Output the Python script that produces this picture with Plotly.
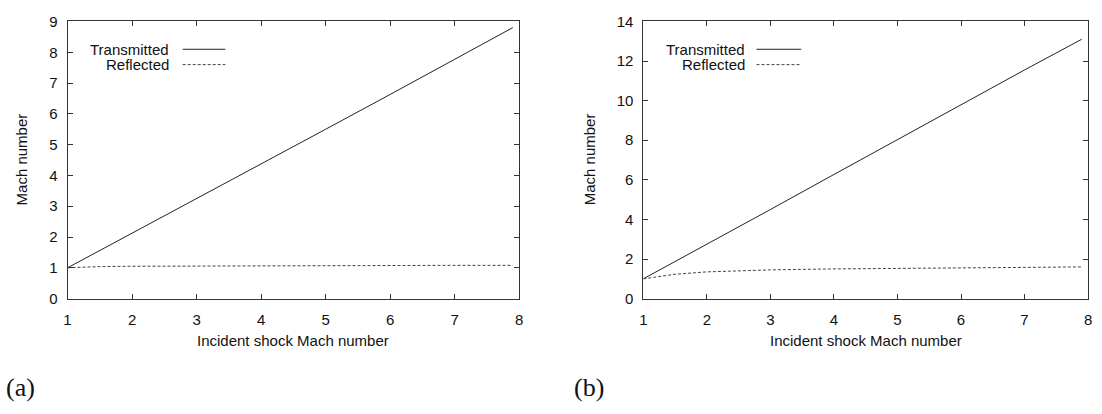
import plotly.graph_objects as go

# ---- data ----
incident_mach = [1.0, 1.5, 2.0, 3.0, 4.0, 5.0, 6.0, 7.0, 7.9]

a_transmitted = [1.0, 1.56, 2.13, 3.25, 4.37, 5.50, 6.63, 7.76, 8.80]
a_reflected   = [1.0, 1.04, 1.05, 1.06, 1.07, 1.075, 1.08, 1.08, 1.08]

b_transmitted = [1.0, 1.87, 2.74, 4.50, 6.27, 8.04, 9.80, 11.55, 13.10]
b_reflected   = [1.0, 1.23, 1.35, 1.45, 1.50, 1.53, 1.56, 1.58, 1.60]

series_names = ["Transmitted", "Reflected"]
x_ticks = [1, 2, 3, 4, 5, 6, 7, 8]
a_y_ticks = [0, 1, 2, 3, 4, 5, 6, 7, 8, 9]
b_y_ticks = [0, 2, 4, 6, 8, 10, 12, 14]
panel_labels = ["(a)", "(b)"]
x_title = "Incident shock Mach number"
y_title = "Mach number"

W, H = 1102, 414
FONT = "Liberation Sans, Arial, Helvetica, sans-serif"
LINE = "#222222"
DASH = "#444444"
FRAME = "#333333"
DASHSTYLE = "3px,2px"

fig = go.Figure()

fig.add_trace(go.Scatter(x=incident_mach, y=a_transmitted, mode="lines", name=series_names[0],
                         line=dict(color=LINE, width=1), xaxis="x", yaxis="y", showlegend=False))
fig.add_trace(go.Scatter(x=incident_mach, y=a_reflected, mode="lines", name=series_names[1],
                         line=dict(color=DASH, width=1, dash=DASHSTYLE), xaxis="x", yaxis="y", showlegend=False))
fig.add_trace(go.Scatter(x=incident_mach, y=b_transmitted, mode="lines", name=series_names[0],
                         line=dict(color=LINE, width=1), xaxis="x2", yaxis="y2", showlegend=False))
fig.add_trace(go.Scatter(x=incident_mach, y=b_reflected, mode="lines", name=series_names[1],
                         line=dict(color=DASH, width=1, dash=DASHSTYLE), xaxis="x2", yaxis="y2", showlegend=False))

def px_x(p):
    return p / W

def px_y(p):
    return 1 - p / H

axis_common = dict(
    showline=True, linecolor=FRAME, linewidth=1, mirror="ticks",
    ticks="inside", ticklen=5, tickwidth=1, tickcolor=FRAME,
    showgrid=False, zeroline=False,
    tickfont=dict(family=FONT, size=15, color="#111111"),
)

ydom = [px_y(302), px_y(13)]

fig.update_layout(
    width=W, height=H,
    margin=dict(l=0, r=0, t=0, b=0),
    paper_bgcolor="white", plot_bgcolor="white",
    showlegend=False,
    xaxis=dict(domain=[px_x(64), px_x(519)], range=[1, 8], tickvals=x_ticks, anchor="y",
               ticklabelstandoff=7, **axis_common),
    yaxis=dict(domain=ydom, range=[0, 9], tickvals=a_y_ticks, anchor="x",
               ticklabelstandoff=6, **axis_common),
    xaxis2=dict(domain=[px_x(644), px_x(1092)], range=[1, 8], tickvals=x_ticks, anchor="y2",
                ticklabelstandoff=7, **axis_common),
    yaxis2=dict(domain=ydom, range=[0, 14], tickvals=b_y_ticks, anchor="x2",
                ticklabelstandoff=6, **axis_common),
)

ann = []
shapes = []
txt_font = dict(family=FONT, size=15, color="#111111")

# axis titles
for cx, cy_title_x in [((64 + 519) / 2, 18), ((644 + 1092) / 2, 590)]:
    ann.append(dict(x=px_x(cx), y=px_y(346), xref="paper", yref="paper", text=x_title,
                    showarrow=False, font=txt_font, xanchor="center", yanchor="middle"))
    ann.append(dict(x=px_x(cy_title_x), y=px_y(157), xref="paper", yref="paper", text=y_title,
                    showarrow=False, font=txt_font, textangle=-90, xanchor="center", yanchor="middle"))

# in-plot legends (text right-aligned, sample line to the right)
legend_pos = [(168, 180, 223), (748, 758, 803)]
for (tx, l0, l1) in legend_pos:
    for i, (name, yy) in enumerate(zip(series_names, [42, 58])):
        ann.append(dict(x=px_x(tx), y=px_y(yy), xref="paper", yref="paper", text=name,
                        showarrow=False, font=txt_font, xanchor="right", yanchor="middle"))
        shapes.append(dict(type="line", xref="paper", yref="paper",
                           x0=px_x(l0), x1=px_x(l1), y0=px_y(yy), y1=px_y(yy),
                           line=dict(color=LINE if i == 0 else DASH, width=1,
                                     dash="solid" if i == 0 else DASHSTYLE)))

# panel labels
for lbl, lx in zip(panel_labels, [0, 572]):
    ann.append(dict(x=px_x(lx), y=px_y(395), xref="paper", yref="paper", text=lbl,
                    showarrow=False, font=dict(family="Liberation Serif, DejaVu Serif, serif", size=26, color="#111111"),
                    xanchor="left", yanchor="middle"))

fig.update_layout(annotations=ann, shapes=shapes)

fig.write_html("out.html")
